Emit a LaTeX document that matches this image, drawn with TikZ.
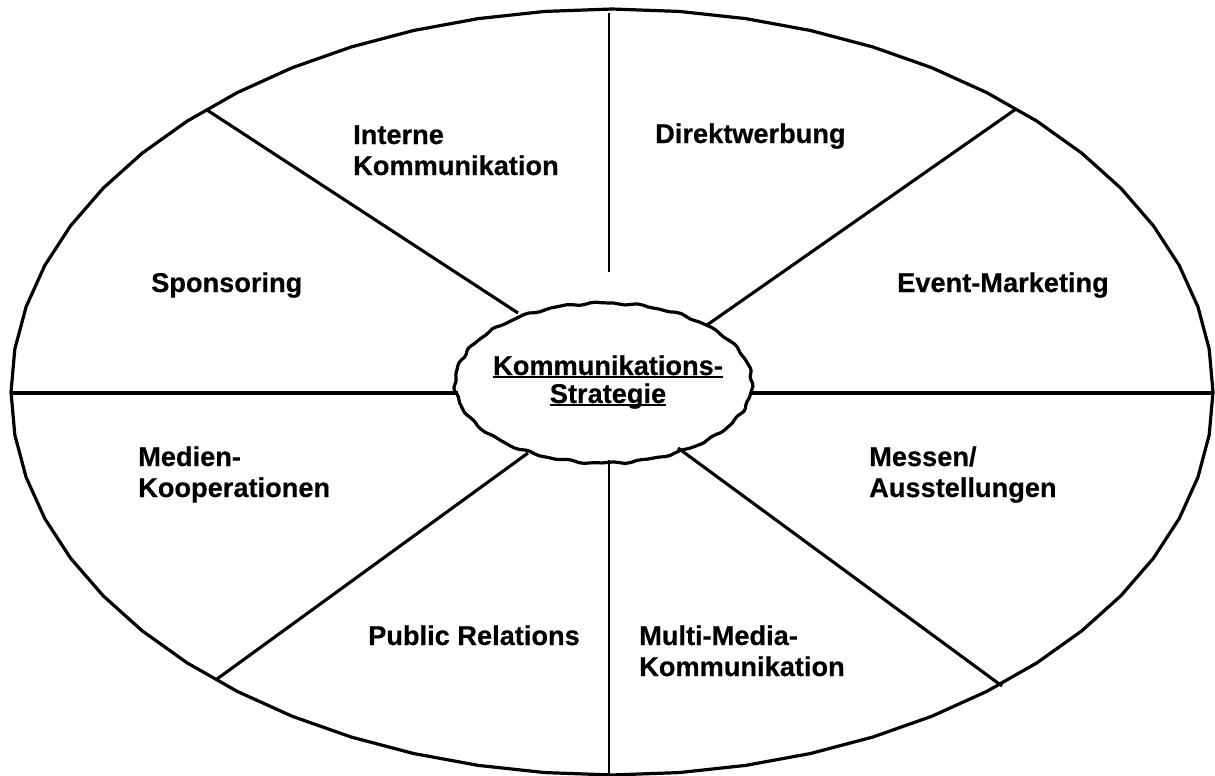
\documentclass[tikz,border=0pt]{standalone}
\usepackage{fontspec}
\setmainfont{Liberation Sans}[BoldFeatures={FakeBold=0.4}]
\newsavebox\ulbox
% underline that sits just under the baseline and crosses descenders
\newcommand\ulword[1]{\sbox\ulbox{#1}\rlap{\rule[-0.12em]{\wd\ulbox}{0.08em}}\usebox\ulbox}
\begin{document}
\begin{tikzpicture}[x=1pt,y=-1pt,line join=round,
  lbl/.style={font=\fontsize{27.2}{31}\selectfont\bfseries,inner sep=0pt,align=left,anchor=base west},
  rim/.style={line width=3.2pt},
  spoke/.style={line width=3.1pt}]
\useasboundingbox (0,0) rectangle (1215,776);

% outer ring, drawn as a many-sided polygon
\draw[rim] plot[domain=0:360,samples=57] ({612+601*cos(\x)},{392+383*sin(\x)}) -- cycle;

% slightly uneven inner ellipse
\draw[rim] plot[domain=0:360,samples=160]
  ({603.5+148.5*cos(\x)*(1+0.006*sin(23*\x)+0.004*sin(37*\x+60))},
   {383+80*sin(\x)*(1+0.01*sin(23*\x+30)+0.007*sin(41*\x))}) -- cycle;

% spoke end points on the outer ring and near the centre
\coordinate (tO) at (609,13);   \coordinate (tI) at (609,272);
\coordinate (bO) at (609,776);  \coordinate (bI) at (609,460);
\coordinate (lO) at (11,393);   \coordinate (lI) at (458,393);
\coordinate (rO) at (1213,393); \coordinate (rI) at (752,393);
\coordinate (ulO) at (207,110); \coordinate (ulI) at (518,313);
\coordinate (urO) at (1016,109);\coordinate (urI) at (707,325);
\coordinate (llO) at (217,679); \coordinate (llI) at (528,453);
\coordinate (lrO) at (1002,686);\coordinate (lrI) at (678,448);

\draw[spoke,line width=2.6pt] (tO) -- (tI);
\draw[spoke,line width=2.6pt] (bI) -- (bO);
\draw[spoke] (lO) -- (lI);
\draw[spoke] (rI) -- (rO);
\draw[spoke] (ulO) -- (ulI);
\draw[spoke] (urO) -- (urI);
\draw[spoke] (llI) -- (llO);
\draw[spoke] (lrI) -- (lrO);

% segment labels (placed by the baseline of their last line)
\node[lbl] (intern) at (353,175) {Interne\\Kommunikation};
\node[lbl] (direkt) at (655,143) {Direktwerbung};
\node[lbl] (spons)  at (151,292) {Sponsoring};
\node[lbl] (event)  at (897,292) {Event-Marketing};
\node[lbl] (medien) at (138,497) {Medien-\\Kooperationen};
\node[lbl] (messen) at (869,497) {Messen/\\Ausstellungen};
\node[lbl] (pr)     at (368,645) {Public Relations};
\node[lbl] (multi)  at (639,676) {Multi-Media-\\Kommunikation};

% centre
\node[lbl,align=center,anchor=base] (core) at (608,403)
  {\ulword{Kommunikations-}\\[-3pt]\ulword{Strategie}};
\end{tikzpicture}
\end{document}
